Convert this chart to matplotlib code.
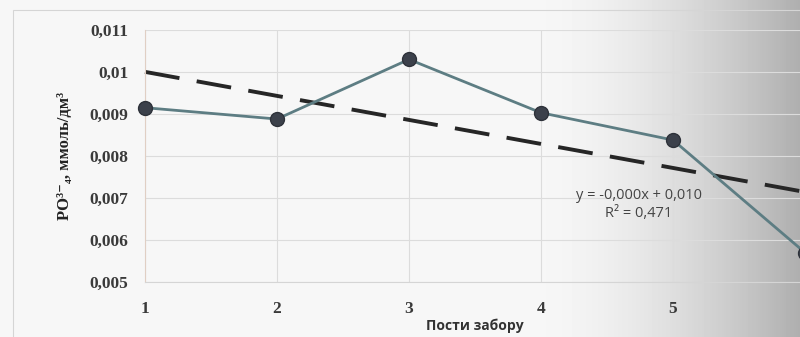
import numpy as np
import matplotlib.pyplot as plt
from matplotlib.patches import Rectangle

posts = [1, 2, 3, 4, 5, 6]
po4 = [0.00915, 0.00888, 0.01030, 0.00903, 0.00838, 0.00570]
y_ticks = [0.005, 0.006, 0.007, 0.008, 0.009, 0.010, 0.011]
y_labels = ["0,005", "0,006", "0,007", "0,008", "0,009", "0,01", "0,011"]
x_ticks = [1, 2, 3, 4, 5]

serif = ['Liberation Serif', 'DejaVu Serif']
sans = ['Open Sans', 'DejaVu Sans']

fig = plt.figure(figsize=(8.0, 3.37), dpi=100)

# фон скана: белый слева, серый градиент справа
bg = fig.add_axes([0, 0, 1, 1], zorder=-10)
gx = np.linspace(0, 1, 400)
shade = np.where(gx < 0.68, 0.965, 0.965 - 0.28 * ((gx - 0.68) / 0.32) ** 1.6)
bg.imshow(np.tile(shade, (10, 1)), cmap='gray', vmin=0, vmax=1,
          aspect='auto', extent=[0, 1, 0, 1])
bg.set_xlim(0, 1)
bg.set_ylim(0, 1)
bg.axis('off')
bg.add_patch(Rectangle((13 / 800, -0.1), 1.1, 1 - 10 / 337 + 0.1,
                       fill=False, ec='#d5d5d5', lw=0.8))

ax = fig.add_axes([145 / 800, 55 / 337, 660 / 800, 252 / 337])
ax.patch.set_alpha(0)

ax.plot(posts, po4, color='#5d7d83', lw=2.0, zorder=3, clip_on=False,
        marker='o', ms=10, mfc='#3c414b', mec='#2e323a', mew=1)

k, b = np.polyfit(posts, po4, 1)
xt = np.array([1, 6.2])
ax.plot(xt, k * xt + b, color='#262626', lw=2.8, dashes=(9, 4.5),
        solid_capstyle='butt', dash_capstyle='butt', zorder=2, clip_on=False)

ax.set_xlim(1, 6)
ax.set_ylim(0.005, 0.011)
ax.set_yticks(y_ticks)
ax.set_yticklabels(y_labels, family=serif, fontsize=12.5, fontweight='bold',
                   color='#3a3a3a')
ax.set_xticks(x_ticks)
ax.set_xticklabels([str(v) for v in x_ticks], family=serif, fontsize=12.5,
                   fontweight='bold', color='#3a3a3a')
ax.tick_params(length=0)
ax.tick_params(axis='y', pad=12)
ax.tick_params(axis='x', pad=14)

ax.grid(True, color='#dcdcdc', lw=0.8)
ax.set_axisbelow(True)
for s in ['top', 'right']:
    ax.spines[s].set_visible(False)
ax.spines['left'].set_color('#e0cfc4')
ax.spines['bottom'].set_color('#d5d5d5')

ax.set_ylabel('PO³⁻₄, ммоль/дм³', family=serif, fontsize=12,
              fontweight='bold', color='#222222', labelpad=12)
ax.set_xlabel('Пости забору', family=sans,
              fontsize=10, fontweight='bold', color='#333333', labelpad=1)

ax.text(4.74, 0.00685, 'y = -0,000x + 0,010\nR² = 0,471',
        family=sans, fontsize=10.5, color='#444444',
        ha='center', va='center', linespacing=1.3)

fig.savefig('out.png', dpi=100)
